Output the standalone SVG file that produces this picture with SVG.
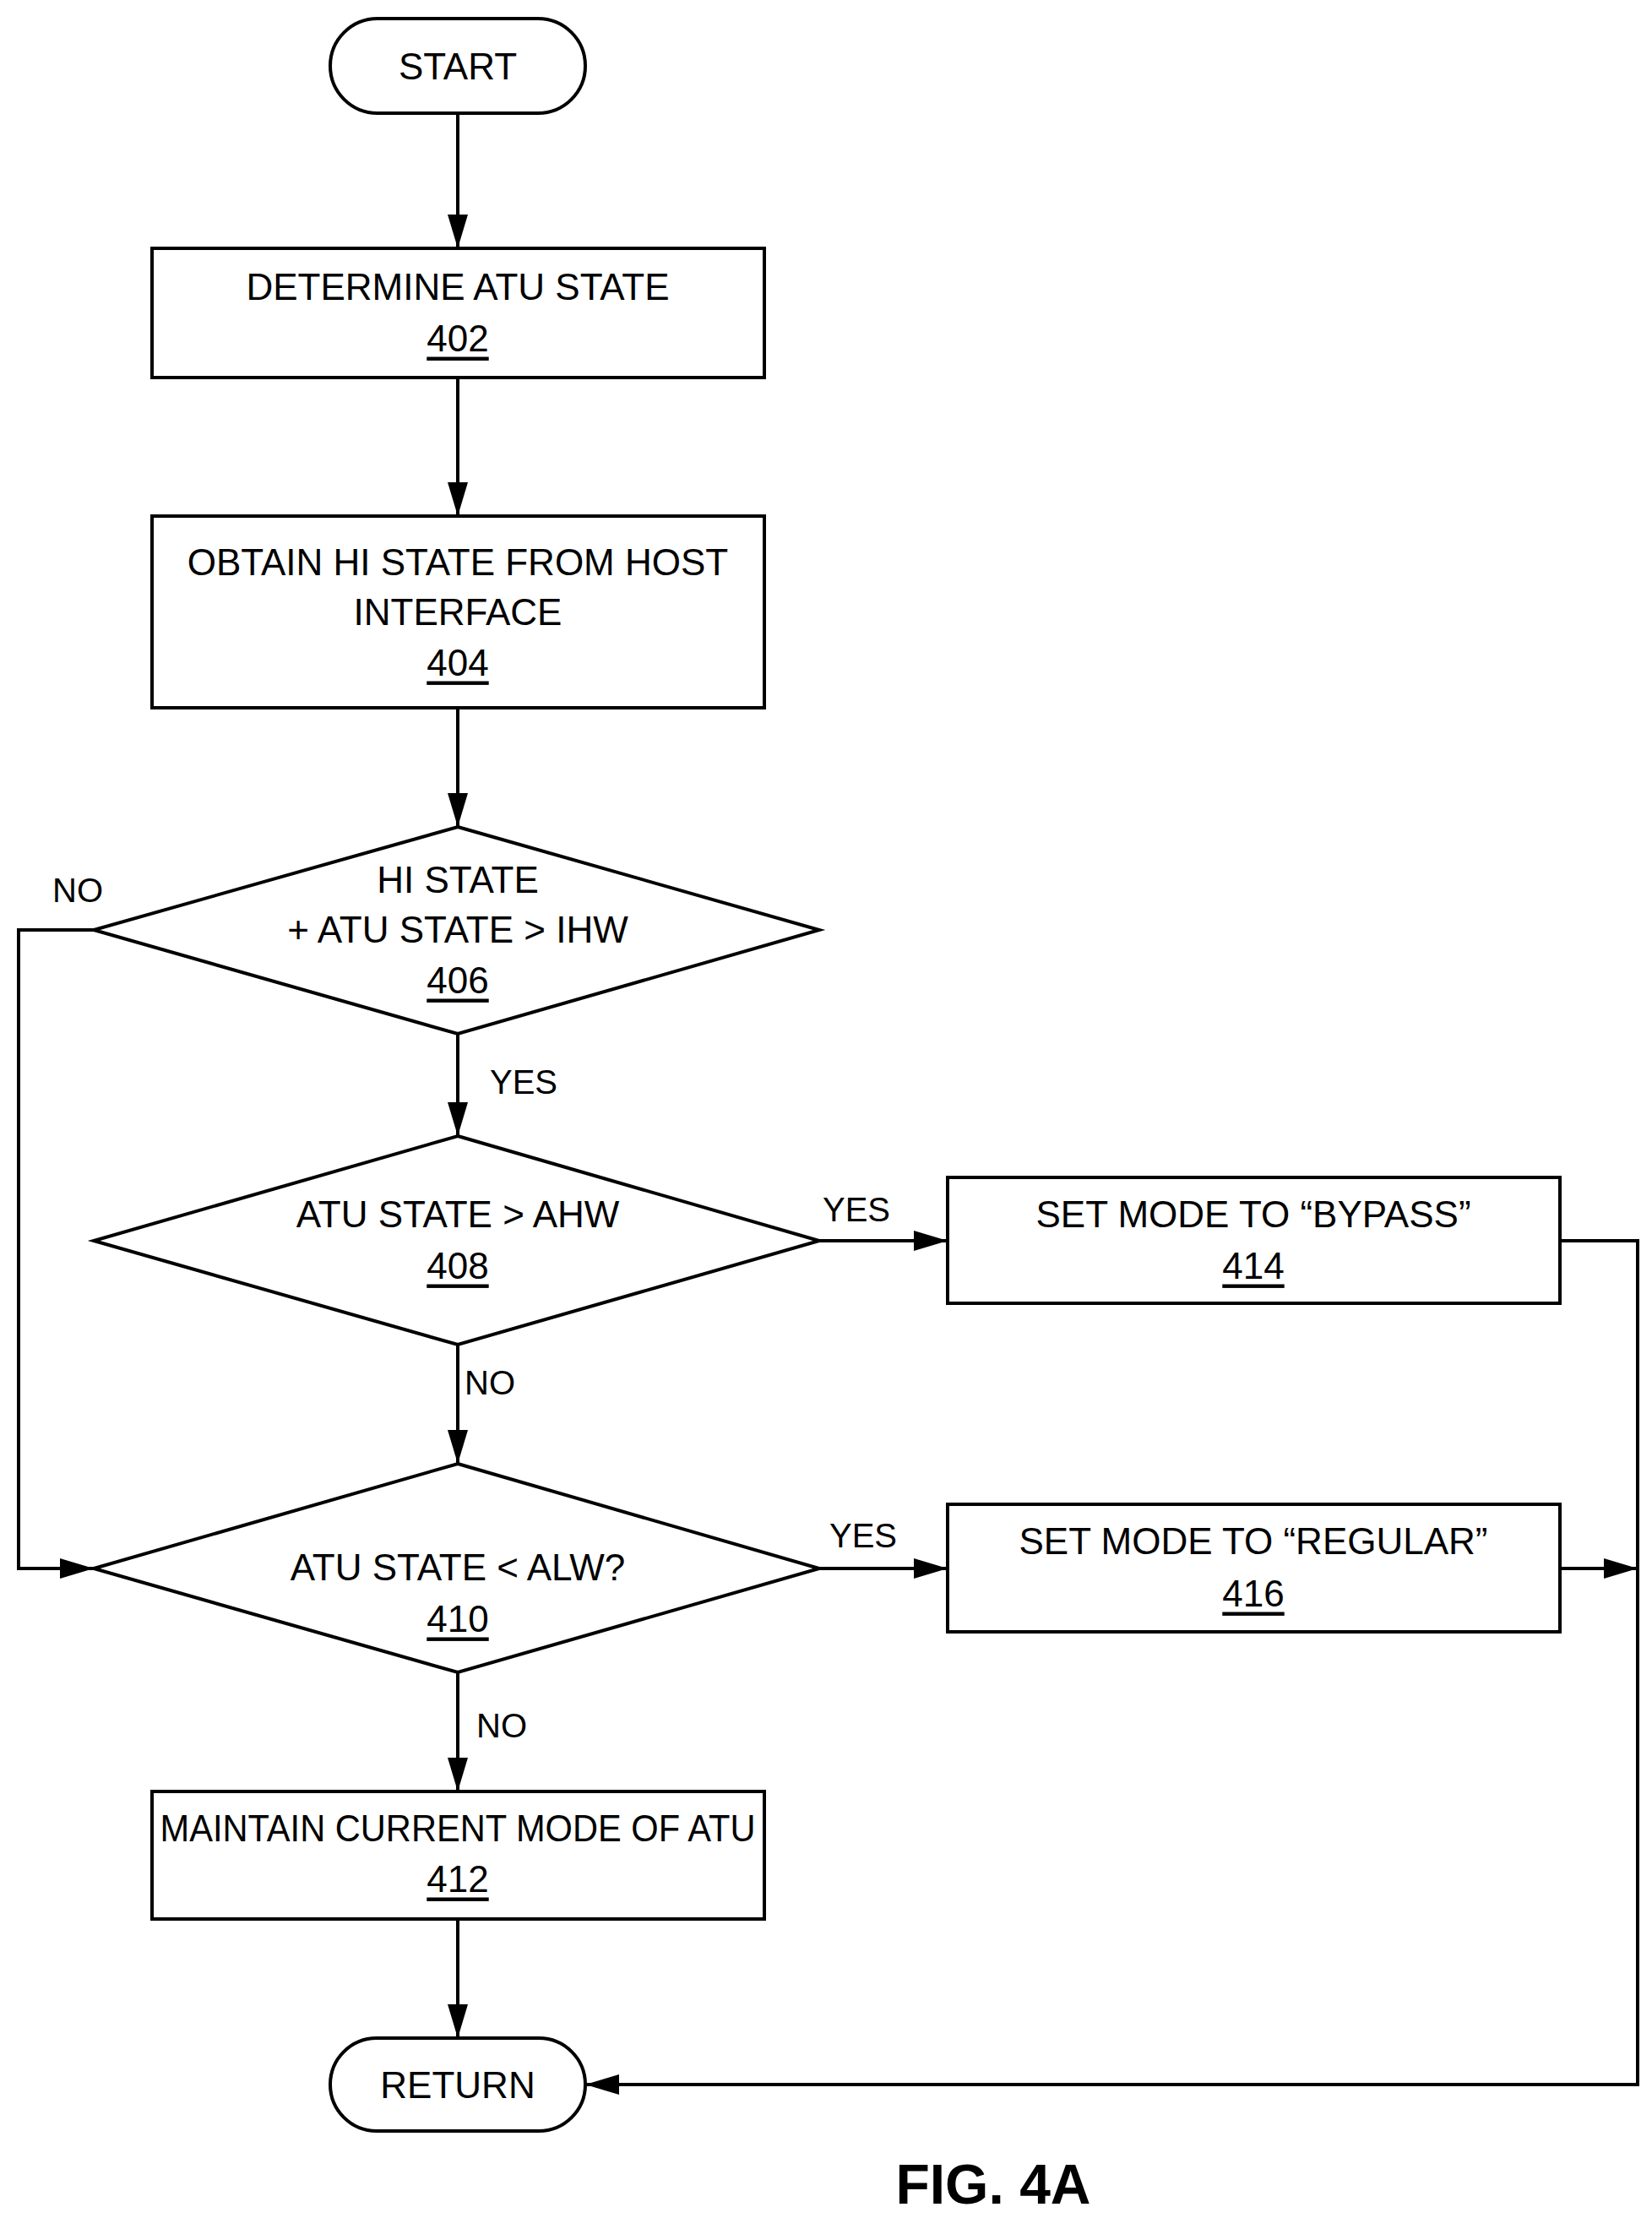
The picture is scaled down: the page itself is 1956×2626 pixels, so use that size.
<svg xmlns="http://www.w3.org/2000/svg" width="1956" height="2626" viewBox="0 0 1956 2626">
<style>
.s{fill:#fff;stroke:#000;stroke-width:4}
text{font-family:"Liberation Sans",Arial,sans-serif;font-size:44px;text-anchor:middle;dominant-baseline:central;fill:#000}
.u{text-decoration:underline}
.l{font-size:40px;text-anchor:start}
.c{fill:none;stroke:#000;stroke-width:4}
</style>
<defs><marker id="b" markerWidth="40" markerHeight="24" refX="40" refY="12" orient="auto" markerUnits="userSpaceOnUse"><path d="M0,0L40,12L0,24z"/></marker></defs>
<rect width="1956" height="2626" fill="#fff"/>
<g id="connectors">
<path class="c" marker-end="url(#b)" d="M542,134V294"/>
<path class="c" marker-end="url(#b)" d="M542,447V611"/>
<path class="c" marker-end="url(#b)" d="M542,838V979"/>
<path class="c" marker-end="url(#b)" d="M542,1224V1345"/>
<path class="c" marker-end="url(#b)" d="M542,1592V1733"/>
<path class="c" marker-end="url(#b)" d="M542,1980V2121"/>
<path class="c" marker-end="url(#b)" d="M542,2272V2413"/>
<path class="c" marker-end="url(#b)" d="M111,1101H22V1857H111"/>
<path class="c" marker-end="url(#b)" d="M970,1469H1122"/>
<path class="c" marker-end="url(#b)" d="M970,1857H1122"/>
<path class="c" marker-end="url(#b)" d="M1847,1469H1939V2468H693"/>
<path class="c" marker-end="url(#b)" d="M1847,1857H1939"/>
<text class="l" x="62" y="1054">NO</text>
<text class="l" x="580" y="1281">YES</text>
<text class="l" x="974" y="1432">YES</text>
<text class="l" x="550" y="1637">NO</text>
<text class="l" x="982" y="1818">YES</text>
<text class="l" x="564" y="2043">NO</text>
</g>
<g id="start"><rect class="s" x="391" y="22" width="302" height="112" rx="56"/><text x="542" y="78">START</text></g>
<g id="n402"><rect class="s" x="180" y="294" width="725" height="153"/><text x="542" y="339">DETERMINE ATU STATE</text><text class="u" x="542" y="400">402</text></g>
<g id="n404"><rect class="s" x="180" y="611" width="725" height="227"/><text x="542" y="665">OBTAIN HI STATE FROM HOST</text><text x="542" y="724">INTERFACE</text><text class="u" x="542" y="784">404</text></g>
<g id="n406"><path class="s" d="M542,979L970,1101L542,1224L111,1101z"/><text x="542" y="1041">HI STATE</text><text x="542" y="1100">+ ATU STATE &gt; IHW</text><text class="u" x="542" y="1160">406</text></g>
<g id="n408"><path class="s" d="M542,1345L970,1469L542,1592L111,1469z"/><text x="542" y="1437">ATU STATE &gt; AHW</text><text class="u" x="542" y="1498">408</text></g>
<g id="n410"><path class="s" d="M542,1733L970,1857L542,1980L111,1857z"/><text x="542" y="1855">ATU STATE &lt; ALW?</text><text class="u" x="542" y="1916">410</text></g>
<g id="n414"><rect class="s" x="1122" y="1394" width="725" height="149"/><text x="1484" y="1437">SET MODE TO “BYPASS”</text><text class="u" x="1484" y="1498">414</text></g>
<g id="n416"><rect class="s" x="1122" y="1781" width="725" height="151"/><text x="1484" y="1824">SET MODE TO “REGULAR”</text><text class="u" x="1484" y="1886">416</text></g>
<g id="n412"><rect class="s" x="180" y="2121" width="725" height="151"/><text x="542" y="2164" textLength="705" lengthAdjust="spacingAndGlyphs">MAINTAIN CURRENT MODE OF ATU</text><text class="u" x="542" y="2224">412</text></g>
<g id="ret"><rect class="s" x="391" y="2413" width="302" height="110" rx="55"/><text x="542" y="2468">RETURN</text></g>
<text x="1176" y="2586" style="font-size:66px;font-weight:bold">FIG. 4A</text>
</svg>
